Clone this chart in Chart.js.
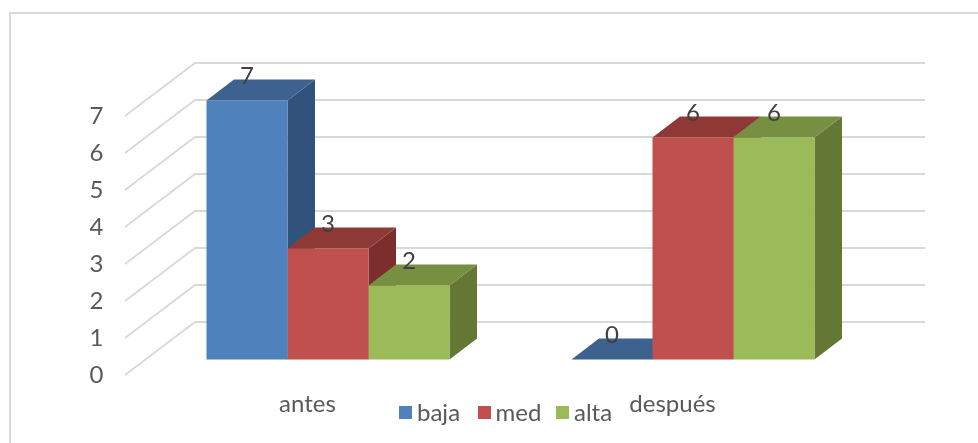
<!DOCTYPE html>
<html>
<head>
<meta charset="utf-8">
<style>
  html, body { margin: 0; background: #fff; overflow: hidden; }
  #wrap { position: relative; width: 978px; height: 443px; overflow: hidden; }
  #frame { position: absolute; left: 9px; top: 12px; width: 1000px; height: 500px; border: 2px solid #d9d9d9; box-sizing: border-box; }
  canvas { position: absolute; left: 0; top: 0; }
  #legend { position: absolute; left: 399px; top: 398px; display: flex; font: 24px Lato, sans-serif; color: #595959; line-height: 28px; }
  #legend span.item { display: flex; align-items: center; width: 78.5px; }
  #legend i { display: block; width: 13px; height: 13px; margin-right: 5px; }
</style>
</head>
<body>
<div id="wrap">
  <div id="frame"></div>
  <canvas id="chart" width="978" height="443"></canvas>
  <div id="legend"></div>
</div>
<script src="https://cdn.jsdelivr.net/npm/chart.js@4"></script>
<script>
const categories = ["antes", "después"];
const baja = [7, 0];
const med = [3, 6];
const alta = [2, 6];
const yTicks = [0, 1, 2, 3, 4, 5, 6, 7];

const colors = {
  baja: { front: "#4f81bd", top: "#3e628f", side: "#31537b" },
  med: { front: "#c0504d", top: "#8f3937", side: "#7b2e2c" },
  alta: { front: "#9bbb59", top: "#778f41", side: "#647735" },
};
const gridColor = "#d9d9d9";
const textColor = "#595959";
const labelColor = "#404040";
const fontFamily = "Lato, sans-serif";

// fake 3D: floor depth of the walls, bar plane offset and bar depth
const wall = { dx: 70, dy: -53, right: 925, left: 125 };
const barPlane = { dy: -15.5 };
const barDepth = { dx: 27.5, dy: -21 };

function fillPoly(ctx, color, pts) {
  ctx.fillStyle = color;
  ctx.beginPath();
  pts.forEach((p, i) => (i ? ctx.lineTo(p[0], p[1]) : ctx.moveTo(p[0], p[1])));
  ctx.closePath();
  ctx.fill();
}

const fake3d = {
  id: "fake3d",
  beforeDatasetsDraw(chart) {
    const ctx = chart.ctx;
    const y = chart.scales.y;

    // walls
    ctx.save();
    ctx.strokeStyle = gridColor;
    ctx.lineWidth = 1.8;
    yTicks.forEach((v) => {
      const py = y.getPixelForValue(v);
      ctx.beginPath();
      ctx.moveTo(wall.left, py);
      ctx.lineTo(wall.left + wall.dx, py + wall.dy);
      ctx.lineTo(wall.right, py + wall.dy);
      ctx.stroke();
    });
    ctx.restore();

    // top and side faces, left to right, fronts come after
    ctx.save();
    ctx.translate(0, barPlane.dy);
    categories.forEach((_, i) => {
      chart.data.datasets.forEach((ds, d) => {
        const bar = chart.getDatasetMeta(d).data[i];
        const c = ds.faces;
        const l = bar.x - bar.width / 2;
        const r = bar.x + bar.width / 2;
        const t = bar.y;
        const b = bar.base;
        fillPoly(ctx, c.side, [[r, t], [r + barDepth.dx, t + barDepth.dy], [r + barDepth.dx, b + barDepth.dy], [r, b]]);
        fillPoly(ctx, c.top, [[l, t], [l + barDepth.dx, t + barDepth.dy], [r + barDepth.dx, t + barDepth.dy], [r, t]]);
      });
    });
    ctx.restore();

    // native bars are the front faces, on the shifted plane
    ctx.save();
    ctx.translate(0, barPlane.dy);
  },
  afterDatasetsDraw(chart) {
    const ctx = chart.ctx;
    ctx.restore();

    // value labels
    ctx.save();
    ctx.font = "24px " + fontFamily;
    ctx.fillStyle = labelColor;
    ctx.textAlign = "center";
    ctx.textBaseline = "middle";
    chart.data.datasets.forEach((ds, d) => {
      chart.getDatasetMeta(d).data.forEach((bar, i) => {
        ctx.fillText(ds.data[i], bar.x, bar.y + barPlane.dy - 24);
      });
    });
    ctx.restore();
  },
};

const chart = new Chart(document.getElementById("chart"), {
  type: "bar",
  data: {
    labels: categories,
    datasets: [
      { label: "baja", data: baja, backgroundColor: colors.baja.front, faces: colors.baja },
      { label: "med", data: med, backgroundColor: colors.med.front, faces: colors.med },
      { label: "alta", data: alta, backgroundColor: colors.alta.front, faces: colors.alta },
    ],
  },
  options: {
    responsive: false,
    animation: false,
    clip: false,
    barPercentage: 1,
    categoryPercentage: 243 / 365,
    layout: { padding: { top: 116, bottom: 18, left: 0, right: 102.5 } },
    plugins: { legend: { display: false }, tooltip: { enabled: false } },
    scales: {
      x: {
        grid: { display: false, drawTicks: false },
        border: { display: false },
        afterFit: (s) => { s.height = 50; },
        ticks: { color: textColor, font: { size: 24, family: fontFamily }, padding: 15, labelOffset: -20.5, maxRotation: 0 },
      },
      y: {
        min: 0,
        max: 7,
        grid: { display: false, drawTicks: false },
        border: { display: false },
        afterFit: (s) => { s.width = 145.5; },
        ticks: { color: textColor, font: { size: 24, family: fontFamily }, padding: 42, stepSize: 1 },
      },
    },
  },
  plugins: [fake3d],
});

document.getElementById("legend").innerHTML = chart.data.datasets
  .map((ds) => `<span class="item"><i style="background:${ds.backgroundColor}"></i>${ds.label}</span>`)
  .join("");
</script>
</body>
</html>
